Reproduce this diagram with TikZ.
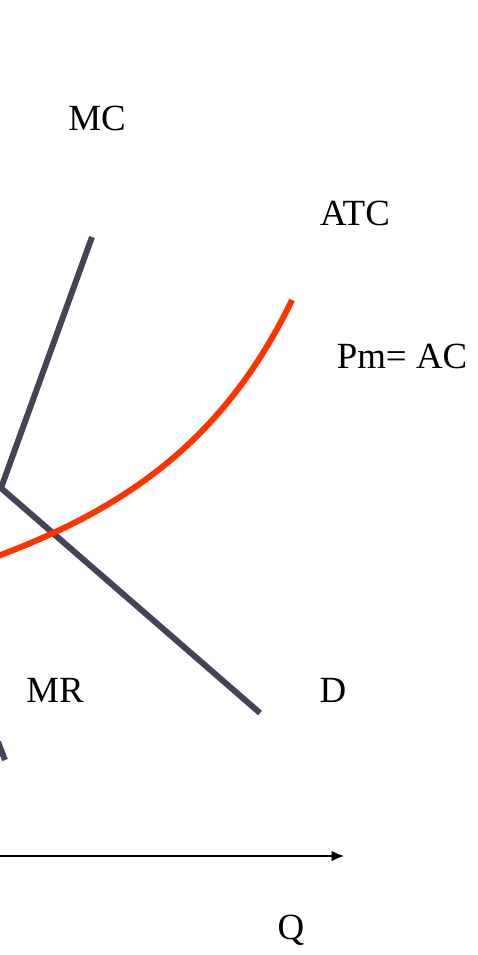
\documentclass[tikz,border=0pt]{standalone}
\usepackage{fontspec}
\setmainfont{Liberation Serif}
\usetikzlibrary{arrows.meta}
\definecolor{curve}{HTML}{444456}
\definecolor{cost}{HTML}{FF3300}

\begin{document}
\begin{tikzpicture}[x=0.02cm, y=-0.02cm,
  lbl/.style={font=\fontsize{21}{24}\selectfont, inner sep=0pt}]
  \useasboundingbox (0,0) rectangle (477,955);
  % curves
  \coordinate (mctop) at (92,237);
  \coordinate (kink) at (1,488);
  \coordinate (dend) at (260,713);
  \draw[curve, line width=3.4pt, line join=miter] (mctop) -- (kink) -- (dend);
  \draw[curve, line width=3.4pt] (-2,742) -- (5,760);
  \coordinate (atctop) at (292,300);
  \coordinate (atcend) at (-2,556);
  \draw[cost, line width=3.4pt] (atctop) .. controls (222,445) and (120,510) .. (atcend);
  % axis
  \coordinate (qstart) at (0,856);
  \coordinate (qend) at (344,856);
  \draw[black, line width=1.1pt, -{Latex[length=7pt,width=6pt]}] (qstart) -- (qend);
  % labels
  \node[lbl] (mc) at (97,118) {MC};
  \node[lbl] (atc) at (355,213) {ATC};
  \node[lbl] (pm) at (402,356) {Pm= AC};
  \node[lbl] (mr) at (55,690) {MR};
  \node[lbl] (d) at (333,690) {D};
  \node[lbl] (q) at (291,930) {Q};
\end{tikzpicture}
\end{document}
